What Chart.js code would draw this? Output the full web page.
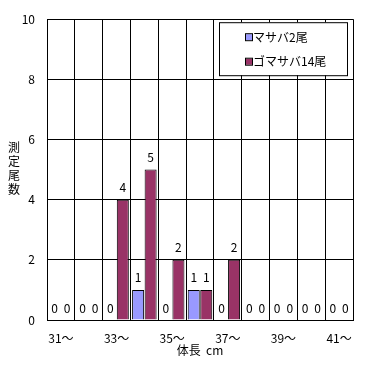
<!DOCTYPE html>
<html lang="ja">
<head>
<meta charset="utf-8">
<title>体長別測定尾数</title>
<script src="https://cdn.jsdelivr.net/npm/chart.js@4.4.1/dist/chart.umd.min.js"></script>
<style>
  html, body { margin: 0; padding: 0; background: #fff; }
  #wrap { position: relative; width: 371px; height: 365px; }
  canvas { display: block; }
  #ytitle {
    position: absolute; left: 7px; top: 140px; width: 14px;
    font: 12px/14px "Noto Sans CJK JP", sans-serif; color: #000; text-align: center;
  }
</style>
</head>
<body>
<div id="wrap">
  <canvas id="chart" width="371" height="365"></canvas>
  <div id="ytitle"></div>
</div>
<script>
// 体長階級（cm）
const categories = ['31〜', '32〜', '33〜', '34〜', '35〜', '36〜', '37〜', '38〜', '39〜', '40〜', '41〜'];
// 測定尾数
const masaba = [0, 0, 0, 1, 0, 1, 0, 0, 0, 0, 0];
const gomasaba = [0, 0, 4, 5, 2, 1, 2, 0, 0, 0, 0];
const seriesNames = ['マサバ2尾', 'ゴマサバ14尾'];
const yTicks = [0, 2, 4, 6, 8, 10];
const yTitle = '測定尾数';
const xTitle = '体長  cm';

const FONT = '"Noto Sans CJK JP", "Noto Sans", sans-serif';
Chart.defaults.font.family = FONT;
Chart.defaults.font.size = 12;
Chart.defaults.color = '#000';

// 縦書きのY軸タイトル（1文字ずつ改行）
document.getElementById('ytitle').innerHTML = Array.from(yTitle).join('<br>');

// 棒の上に数値を表示
const valueLabels = {
    id: 'valueLabels',
    afterDatasetsDraw(chart) {
        const ctx = chart.ctx;
        ctx.save();
        ctx.font = '12px ' + FONT;
        ctx.fillStyle = '#000';
        ctx.textAlign = 'center';
        ctx.textBaseline = 'middle';
        chart.data.datasets.forEach((ds, i) => {
            chart.getDatasetMeta(i).data.forEach((bar, j) => {
                ctx.fillText(String(ds.data[j]), bar.x, bar.y - 12);
            });
        });
        ctx.restore();
    }
};

// プロット内の凡例（枠付き）
const boxLegend = {
    id: 'boxLegend',
    afterDraw(chart) {
        const ctx = chart.ctx;
        const area = chart.chartArea;
        const w = 128, h = 53;
        const x = area.right - 134, y = area.top + 3;
        ctx.save();
        ctx.fillStyle = '#fff';
        ctx.fillRect(x, y, w, h);
        ctx.strokeStyle = '#000';
        ctx.lineWidth = 1;
        ctx.strokeRect(x + 0.5, y + 0.5, w, h);
        ctx.font = '12px ' + FONT;
        ctx.textAlign = 'left';
        ctx.textBaseline = 'middle';
        chart.data.datasets.forEach((ds, i) => {
            const cy = y + 15 + i * 24.5;
            ctx.fillStyle = ds.backgroundColor;
            ctx.fillRect(x + 27, cy - 3, 6, 6);
            ctx.strokeRect(x + 26.5, cy - 3.5, 7, 7);
            ctx.fillStyle = '#000';
            ctx.fillText(ds.label, x + 34, cy);
        });
        ctx.restore();
    }
};

new Chart(document.getElementById('chart'), {
    type: 'bar',
    data: {
        labels: categories,
        datasets: [{
            label: seriesNames[0],
            data: masaba,
            backgroundColor: '#9999FF',
            borderColor: '#000',
            borderWidth: 1
        }, {
            label: seriesNames[1],
            data: gomasaba,
            backgroundColor: '#993366',
            borderColor: '#000',
            borderWidth: 1
        }]
    },
    options: {
        responsive: false,
        animation: false,
        categoryPercentage: 0.9,
        barPercentage: 0.96,
        layout: { padding: { top: 15, right: 18, left: 0, bottom: 0 } },
        plugins: {
            legend: { display: false },
            tooltip: { enabled: false }
        },
        scales: {
            x: {
                grid: { color: '#000', drawTicks: false },
                border: { color: '#000' },
                ticks: {
                    autoSkip: false,
                    maxRotation: 0,
                    padding: 11,
                    callback: (v, i) => (i % 2 === 0 ? categories[i] : '')
                },
                title: { display: true, text: xTitle, padding: { top: 0, bottom: 7 } },
                afterFit: s => { s.height = 45; }
            },
            y: {
                min: 0,
                max: 10,
                grid: { color: '#000', drawTicks: false },
                border: { color: '#000' },
                ticks: { padding: 12 },
                afterBuildTicks: s => { s.ticks = yTicks.map(v => ({ value: v })); },
                afterFit: s => { s.width = 47; }
            }
        }
    },
    plugins: [valueLabels, boxLegend]
});
</script>
</body>
</html>
